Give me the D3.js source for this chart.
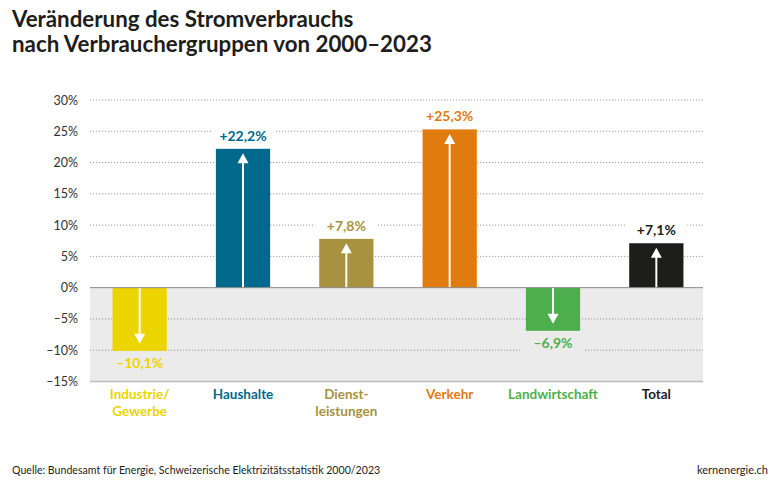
<!DOCTYPE html>
<html><head><meta charset="utf-8">
<script src="https://cdn.jsdelivr.net/npm/d3@7"></script>
<style>body{margin:0;background:#fff}svg{display:block}text{font-family:Lato,"Noto Sans",sans-serif}</style>
</head><body><svg id="c" width="780" height="485"></svg>
<script>
const categories = [["Industrie/","Gewerbe"],["Haushalte"],["Dienst-","leistungen"],["Verkehr"],["Landwirtschaft"],["Total"]];
const values = [-10.1, 22.2, 7.8, 25.3, -6.9, 7.1];
const valueLabels = ["–10,1%","+22,2%","+7,8%","+25,3%","–6,9%","+7,1%"];
const colors = ["#ecd400","#00698c","#a8923f","#e07b10","#4caf4c","#1d1d1b"];
const ticks = [30,25,20,15,10,5,0,-5,-10,-15];
const tickLabels = ["30%","25%","20%","15%","10%","5%","0%","–5%","–10%","–15%"];

const svg = d3.select("#c");
const y = d3.scaleLinear().domain([-15,30]).range([381.5,100]);
const x = d3.scaleBand().domain(d3.range(categories.length)).range([88,708]).padding(0);
const bw = x.bandwidth()*0.525;
const gx0 = 90, gx1 = 703;

// title
svg.append("text").attr("x",12).attr("y",27).attr("font-size",22.3).attr("font-weight",700).attr("fill","#1d1d1b").text("Veränderung des Stromverbrauchs");
svg.append("text").attr("x",12).attr("y",52).attr("font-size",22.3).attr("font-weight",700).attr("fill","#1d1d1b").text("nach Verbrauchergruppen von 2000–2023");

// gray negative region
svg.append("rect").attr("x",gx0).attr("y",y(0)).attr("width",gx1-gx0).attr("height",y(-15)-y(0)).attr("fill","#ebebeb");

// gridlines
ticks.forEach((t,i)=>{
  if(t!==0 && t!==-15){
    svg.append("line").attr("x1",gx0).attr("x2",gx1).attr("y1",y(t)).attr("y2",y(t))
      .attr("stroke","#9a9a9a").attr("stroke-width",1).attr("stroke-dasharray","1.2,1.8");
  }
  svg.append("text").attr("x",78).attr("y",y(t)+4.5).attr("text-anchor","end").attr("font-size",12.5).attr("fill","#333").text(tickLabels[i]);
});

// bars
values.forEach((v,i)=>{
  const cx = x(i)+x.bandwidth()/2;
  const top = y(Math.max(0,v)), bot = y(Math.min(0,v));
  const ly = v>=0 ? top-8 : bot+17;
  const bgc = v>=0 ? "#fff" : "#ebebeb";
  svg.append("rect").attr("x",cx-31).attr("y",ly-13).attr("width",62).attr("height",17).attr("fill",bgc);
  svg.append("text").attr("x",cx).attr("y",ly).attr("text-anchor","middle").attr("font-size",14).attr("font-weight",700)
    .attr("fill",colors[i]).text(valueLabels[i]);
  svg.append("rect").attr("x",cx-bw/2).attr("y",top).attr("width",bw).attr("height",bot-top).attr("fill",colors[i]);
  const hh=10, hw=5.5;
  if(v>=0){
    const tip = top+4.5;
    svg.append("line").attr("x1",cx).attr("x2",cx).attr("y1",y(0)).attr("y2",tip+hh-1).attr("stroke","#fff").attr("stroke-width",2);
    svg.append("path").attr("d",`M${cx},${tip}L${cx+hw},${tip+hh}L${cx-hw},${tip+hh}Z`).attr("fill","#fff");
  } else {
    const tip = bot-7;
    svg.append("line").attr("x1",cx).attr("x2",cx).attr("y1",y(0)).attr("y2",tip-hh+1).attr("stroke","#fff").attr("stroke-width",2);
    svg.append("path").attr("d",`M${cx},${tip}L${cx+hw},${tip-hh}L${cx-hw},${tip-hh}Z`).attr("fill","#fff");
  }
  categories[i].forEach((s,j)=>{
    svg.append("text").attr("x",cx).attr("y",399+j*17).attr("text-anchor","middle").attr("font-size",13.5).attr("font-weight",700)
      .attr("fill",colors[i]).text(s);
  });
});

// zero line and bottom line
svg.append("line").attr("x1",gx0).attr("x2",gx1).attr("y1",y(0)).attr("y2",y(0)).attr("stroke","#8a8a8a").attr("stroke-width",1);
svg.append("line").attr("x1",gx0).attr("x2",gx1).attr("y1",y(-15)).attr("y2",y(-15)).attr("stroke","#bdbdbd").attr("stroke-width",1.5);

// footer
svg.append("text").attr("x",12).attr("y",474).attr("font-size",10.6).attr("fill","#1d1d1b").text("Quelle: Bundesamt für Energie, Schweizerische Elektrizitätsstatistik 2000/2023");
svg.append("text").attr("x",768).attr("y",474).attr("text-anchor","end").attr("font-size",11).attr("fill","#1d1d1b").text("kernenergie.ch");
</script></body></html>
